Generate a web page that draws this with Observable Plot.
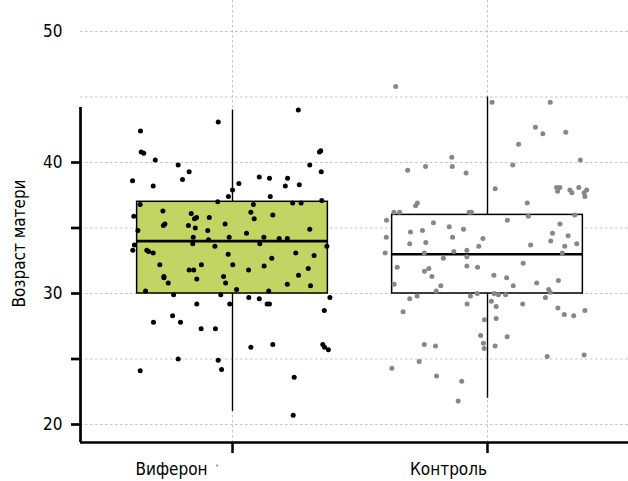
<!DOCTYPE html>
<html><head><meta charset="utf-8">
<script src="https://cdn.jsdelivr.net/npm/d3@7"></script>
<script src="https://cdn.jsdelivr.net/npm/@observablehq/plot@0.6"></script>
<style>
html,body{margin:0;padding:0;background:#fff;}
svg{font-stretch:condensed;}
</style></head><body><div id="chart"></div>
<script>
// ---- data ----
const categories = ["Виферон", "Контроль"];
const yTitle = "Возраст матери";

const viferonAge = [
 42.4, 40.8, 40.7, 40.2, 38.6, 38.2, 39.8, 39.3, 38.7, 43.1,
 44.0, 40.8, 40.9, 39.8, 39.3, 38.9, 38.8, 38.8, 38.2, 38.3,
 37.4, 38.4, 37.9, 37.4, 37.0, 36.9, 36.9, 37.1, 36.8, 35.9,
 34.8, 36.3, 35.2, 35.3, 36.1, 35.7, 35.8, 35.2, 35.0, 35.8,
 34.8, 35.3, 34.3, 33.8, 34.1, 34.3, 33.6, 36.2, 35.7, 36.8,
 36.0, 34.6, 34.3, 33.8, 34.2, 34.2, 34.9, 33.6, 33.7, 33.3,
 33.3, 33.2, 33.1, 32.2, 31.3, 31.2, 30.8, 31.8, 31.8, 31.1,
 32.2, 31.3, 30.8, 32.2, 33.0, 31.8, 32.1, 32.7, 33.1, 32.9,
 31.9, 31.4, 30.7, 30.6, 30.2, 30.3, 30.2, 29.9, 29.9, 29.7,
 29.6, 29.2, 29.2, 29.7, 29.2, 29.2, 27.8, 28.3, 27.8, 27.3,
 27.3, 28.7, 25.9, 26.1, 26.1, 25.9, 25.7, 25.0, 24.9, 24.1,
 24.2, 23.6, 20.7
];
const viferonJitter = [
 -0.361, -0.358, -0.348, -0.303, -0.392, -0.311, -0.213, -0.170, -0.196, -0.056,
 0.258, 0.341, 0.346, 0.303, 0.348, 0.105, 0.145, 0.216, 0.207, 0.262,
 0.148, 0.025, 0.000, -0.016, -0.058, 0.236, 0.269, 0.350, -0.362, -0.387,
 -0.371, -0.273, -0.271, -0.265, -0.162, -0.149, -0.141, -0.173, -0.146, -0.091,
 -0.097, -0.029, -0.154, -0.156, -0.094, -0.013, -0.069, 0.072, 0.085, 0.082,
 0.158, 0.055, 0.123, 0.107, 0.183, 0.215, 0.303, 0.370, -0.385, -0.391,
 -0.336, -0.329, -0.311, -0.285, -0.269, -0.269, -0.252, -0.170, -0.152, -0.140,
 -0.122, -0.035, -0.027, 0.001, -0.017, 0.063, 0.124, 0.154, 0.248, 0.320,
 0.297, 0.259, 0.215, 0.306, -0.341, 0.016, 0.142, -0.231, -0.046, 0.064,
 0.105, 0.136, 0.145, 0.382, -0.140, -0.011, -0.310, -0.235, -0.204, -0.123,
 -0.067, 0.360, 0.072, 0.158, 0.354, 0.361, 0.376, -0.213, -0.056, -0.362,
 -0.043, 0.242, 0.238
];

const controlAge = [
 45.8, 44.6, 44.6, 42.7, 42.2, 42.3, 41.4, 40.4, 39.7, 39.7,
 39.4, 39.2, 39.8, 40.2, 38.0, 38.1, 38.1, 37.8, 37.9, 37.7,
 38.1, 37.7, 37.9, 37.4, 36.7, 36.9, 36.9, 36.2, 36.2, 36.2,
 36.2, 35.9, 36.0, 35.6, 35.6, 35.4, 35.1, 34.9, 35.3, 34.7,
 34.8, 34.6, 34.3, 34.3, 34.4, 33.8, 33.9, 34.2, 33.6, 34.0,
 33.6, 33.8, 33.7, 33.1, 33.1, 33.2, 33.3, 32.8, 32.7, 33.1,
 32.0, 31.7, 31.9, 31.3, 32.1, 32.0, 32.3, 31.4, 31.2, 30.6,
 30.8, 31.0, 30.7, 30.6, 30.2, 30.3, 30.1, 29.6, 29.8, 29.8,
 30.0, 30.0, 29.9, 29.9, 29.7, 29.4, 29.2, 29.0, 29.2, 28.9,
 28.6, 28.4, 28.3, 28.7, 28.0, 28.1, 26.8, 26.7, 26.2, 25.8,
 26.0, 26.1, 26.0, 24.8, 24.3, 23.7, 23.3, 21.8, 25.2, 25.3
];
const controlJitter = [
 -0.360, 0.018, 0.246, 0.188, 0.217, 0.307, 0.122, -0.140, -0.138, -0.243,
 -0.313, -0.084, 0.099, 0.364, 0.030, 0.271, 0.284, 0.275, 0.323, 0.331,
 0.358, 0.379, 0.389, 0.382, -0.282, -0.275, 0.156, -0.367, -0.345, -0.072,
 -0.063, 0.160, 0.342, -0.396, 0.078, -0.212, -0.150, -0.094, 0.284, -0.302,
 -0.255, 0.255, -0.397, -0.137, 0.316, -0.305, -0.242, -0.018, -0.034, 0.248,
 0.303, 0.350, 0.169, -0.401, -0.248, -0.132, -0.081, -0.081, -0.173, 0.293,
 -0.354, -0.247, -0.230, -0.218, -0.081, -0.039, 0.140, 0.025, 0.075, 0.101,
 0.193, 0.278, -0.366, -0.183, -0.201, 0.240, 0.246, -0.305, -0.276, -0.067,
 -0.040, 0.026, 0.043, 0.071, 0.227, 0.015, -0.080, 0.034, 0.138, 0.276,
 -0.331, 0.301, 0.338, 0.382, -0.012, 0.034, -0.027, 0.077, -0.016, -0.013,
 0.030, -0.248, -0.204, -0.268, -0.375, -0.200, -0.101, -0.115, 0.234, 0.379
];

// box statistics
const boxQ1 = [30, 30];
const boxMedian = [34, 33];
const boxQ3 = [37, 36];
const whiskerLow = [21, 22];
const whiskerHigh = [44, 45];

// stray mark below the axis
const strayX = [0.94];
const strayY = [16.87];

// axis ticks
const gridTicks = [20, 25, 30, 35, 40, 45, 50];
const tickMarks = [20, 25, 30, 35, 40];
const tickLabels = [20, 30, 40, 50];

// ---- styling / layout ----
const boxFill = ["#c2d464", "#ffffff"];
const dotFill = ["#000000", "#878787"];
const boxHalf = 0.374;
const leftEdge = 1 - 152 / 255;
const bottomEdge = 20 - 18 / 13.1;
const axisTop = 44.2;
const labelDx = [-61, -39];
const FONT = "'DejaVu Sans Condensed', 'DejaVu Sans', 'Open Sans', sans-serif";

const boxes = categories.map((c, i) => ({
  cat: c, pos: i + 1, q1: boxQ1[i], med: boxMedian[i], q3: boxQ3[i],
  lo: whiskerLow[i], hi: whiskerHigh[i], fill: boxFill[i]
}));
const points = [
  ...viferonAge.map((v, i) => ({pos: 1 + viferonJitter[i], age: v, fill: dotFill[0]})),
  ...controlAge.map((v, i) => ({pos: 2 + controlJitter[i], age: v, fill: dotFill[1]}))
];

const chart = Plot.plot({
  width: 628, height: 481,
  marginLeft: 80, marginRight: 0, marginTop: 0, marginBottom: 39,
  x: {domain: [1, 2], range: [232, 487], axis: null},
  y: {domain: [20, 50], range: [424, 31], axis: null},
  color: {type: "identity"},
  style: {fontFamily: FONT, background: "#fff", color: "#000", overflow: "visible"},
  marks: [
    Plot.gridY(gridTicks, {stroke: "#c4c4c4", strokeOpacity: 1, strokeDasharray: "2.5,2.5", strokeWidth: 1}),
    Plot.gridX([1, 2], {stroke: "#c4c4c4", strokeOpacity: 1, strokeDasharray: "2.5,2.5", strokeWidth: 1}),
    Plot.ruleX(boxes, {x: "pos", y1: "q3", y2: "hi", stroke: "#000", strokeWidth: 1.4}),
    Plot.ruleX(boxes, {x: "pos", y1: "lo", y2: "q1", stroke: "#000", strokeWidth: 1.4}),
    Plot.rect(boxes, {x1: d => d.pos - boxHalf, x2: d => d.pos + boxHalf, y1: "q1", y2: "q3",
      fill: "fill", stroke: "#000", strokeWidth: 1.5}),
    Plot.ruleY(boxes, {y: "med", x1: d => d.pos - boxHalf, x2: d => d.pos + boxHalf, stroke: "#000", strokeWidth: 2.6}),
    Plot.dot(points, {x: "pos", y: "age", r: 2.5, fill: "fill", stroke: null}),
    Plot.dot(strayX, {x: d => d, y: (d, i) => strayY[i], r: 1.1, fill: dotFill[1], stroke: null}),
    // axes
    Plot.ruleY([bottomEdge], {stroke: "#000", strokeWidth: 2.7}),
    Plot.ruleX([leftEdge], {y1: axisTop, y2: bottomEdge, stroke: "#000", strokeWidth: 2.7}),
    Plot.axisY(tickMarks, {tickSize: 9, tickFormat: () => "", strokeWidth: 2.7, label: null}),
    Plot.axisY(tickLabels, {tickSize: 0, tickPadding: 18, fontSize: 17, label: null}),
    Plot.axisX([1, 2], {tickSize: 11, tickFormat: () => "", strokeWidth: 2.5, label: null}),
    ...categories.map((c, i) => Plot.text([c], {x: [i + 1], frameAnchor: "bottom", dx: labelDx[i], dy: 32.5,
      fontSize: 17, textAnchor: "middle", fill: "#000", letterSpacing: "-0.6px"})),
    Plot.text([yTitle], {frameAnchor: "left", textAnchor: "middle", dx: -61, dy: 22, rotate: -90,
      fontSize: 17, fill: "#000", letterSpacing: "-0.5px"})
  ]
});
document.getElementById("chart").appendChild(chart);
</script></body></html>
